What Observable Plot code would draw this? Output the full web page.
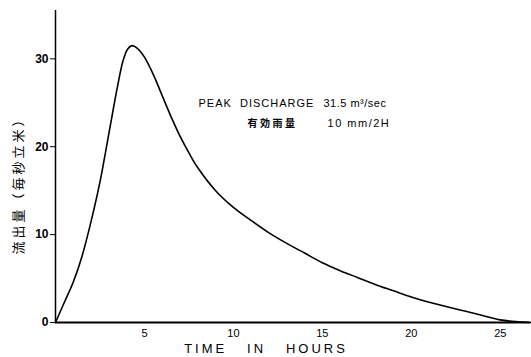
<!DOCTYPE html>
<html>
<head>
<meta charset="utf-8">
<script src="https://cdn.jsdelivr.net/npm/d3@7"></script>
<script src="https://cdn.jsdelivr.net/npm/@observablehq/plot@0.6"></script>
<style>
  html, body { margin: 0; padding: 0; background: #fff; }
  svg { font-family: "Liberation Sans", "DejaVu Sans", sans-serif; }
</style>
</head>
<body>
<div id="chart"></div>
<script>
// Hydrograph: time (hours) vs discharge (m³/sec)
const hours = [0, 0.5, 1, 1.5, 2, 2.5, 3, 3.5, 3.8, 4.05, 4.3, 4.6, 5, 5.5, 6, 6.5, 7, 7.5, 8, 9, 10, 11, 12, 13, 14, 15, 16, 17, 18, 19, 20, 21, 22, 23, 24, 25, 26, 26.7];
const discharge = [0, 2.3, 4.6, 7.6, 11.5, 16, 21.5, 27, 29.8, 31.1, 31.5, 31.2, 30.2, 28.2, 25.8, 23.4, 21.2, 19.3, 17.6, 15, 13.1, 11.6, 10.2, 9, 7.9, 6.8, 5.9, 5.1, 4.3, 3.6, 2.9, 2.3, 1.8, 1.3, 0.8, 0.3, 0.08, 0];
const xTicks = [5, 10, 15, 20, 25];
const yTicks = [0, 10, 20, 30];
const xLabel = "TIME   IN   HOURS";
const yLabel = "流出量（毎秒立米）";
const note1a = "PEAK  DISCHARGE";
const note1b = "31.5 m³/sec";
const note2a = "有効雨量";
const note2b = "10 mm/2H";

const data = hours.map((h, i) => ({hour: h, q: discharge[i]}));

const chart = Plot.plot({
  width: 531,
  height: 357,
  marginLeft: 55,
  marginRight: 1,
  marginTop: 10,
  marginBottom: 35,
  x: {domain: [0, 26.7]},
  y: {domain: [0, 35.5]},
  style: {fontSize: "11px", color: "#000", background: "#fff"},
  marks: [
    Plot.ruleY([0], {stroke: "#000", strokeWidth: 2}),
    Plot.ruleX([0], {stroke: "#000", strokeWidth: 1.5}),
    Plot.axisX({ticks: xTicks, tickSize: 0, tickPadding: 7, label: null, fontSize: 11}),
    Plot.axisY({ticks: yTicks, tickSize: 5, tickPadding: 2, label: null, fontSize: 12, fontWeight: "bold"}),
    Plot.text([xLabel], {frameAnchor: "bottom", textAnchor: "middle", dx: -27, dy: 30, fontSize: 13, text: d => d}),
    Plot.text([yLabel], {frameAnchor: "left", textAnchor: "middle", rotate: -90, dx: -37, dy: 16, fontSize: 13, fontFamily: "Noto Sans CJK JP", text: d => d}),
    Plot.line(data, {x: "hour", y: "q", curve: "catmull-rom", stroke: "#000", strokeWidth: 1.6}),
    Plot.text([note1a], {x: 8.04, y: 24.9, textAnchor: "start", fontSize: 11, text: d => d}),
    Plot.text([note1b], {x: 15.06, y: 24.9, textAnchor: "start", fontSize: 11, text: d => d}),
    Plot.text([note2a], {x: 10.79, y: 22.6, textAnchor: "start", fontSize: 10, fontWeight: "bold", fontFamily: "Noto Sans CJK JP", text: d => d}),
    Plot.text([note2b], {x: 15.29, y: 22.6, textAnchor: "start", fontSize: 11, text: d => d})
  ]
});

// letter spacing to match the wide, typewritten lettering of the original
const spacing = new Map([[xLabel, "3px"], [yLabel, "3px"], [note1a, "1px"], [note1b, "0.5px"], [note2a, "2.5px"], [note2b, "1.5px"]]);
d3.select(chart).selectAll("text").each(function () {
  const s = spacing.get(this.textContent);
  if (s) this.style.letterSpacing = s;
});
document.getElementById("chart").appendChild(chart);
</script>
</body>
</html>
